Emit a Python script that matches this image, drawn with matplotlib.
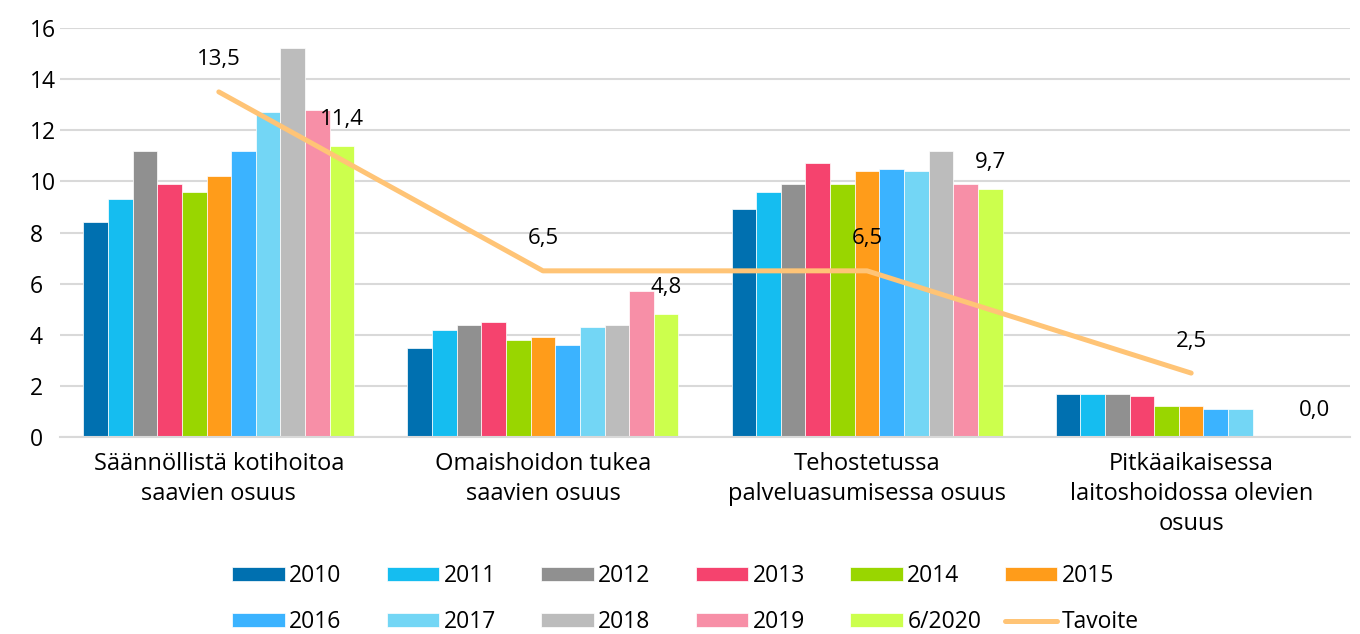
import numpy as np
import matplotlib.pyplot as plt

plt.rcParams['font.family'] = ['Open Sans', 'DejaVu Sans']

categories = ["Säännöllistä kotihoitoa\nsaavien osuus",
              "Omaishoidon tukea\nsaavien osuus",
              "Tehostetussa\npalveluasumisessa osuus",
              "Pitkäaikaisessa\nlaitoshoidossa olevien\nosuus"]
years = ["2010", "2011", "2012", "2013", "2014", "2015",
         "2016", "2017", "2018", "2019", "6/2020"]
# one list per year: values for the four categories
v2010 = [8.4, 3.5, 8.9, 1.7]
v2011 = [9.3, 4.2, 9.6, 1.7]
v2012 = [11.2, 4.4, 9.9, 1.7]
v2013 = [9.9, 4.5, 10.7, 1.6]
v2014 = [9.6, 3.8, 9.9, 1.2]
v2015 = [10.2, 3.9, 10.4, 1.2]
v2016 = [11.2, 3.6, 10.5, 1.1]
v2017 = [12.7, 4.3, 10.4, 1.1]
v2018 = [15.2, 4.4, 11.2, np.nan]
v2019 = [12.8, 5.7, 9.9, np.nan]
v2020 = [11.4, 4.8, 9.7, 0.0]
tavoite = [13.5, 6.5, 6.5, 2.5]

series = [v2010, v2011, v2012, v2013, v2014, v2015,
          v2016, v2017, v2018, v2019, v2020]
colors = ["#0070b0", "#15bdf0", "#909090", "#f5436e", "#99d600", "#ff9c1a",
          "#3bb3ff", "#73d6f5", "#bcbcbc", "#f78fa7", "#ccff4d"]
line_color = "#ffc476"

fig = plt.figure(figsize=(13.6, 6.34), dpi=100)
ax = fig.add_axes([60/1360, 1 - 437/634, 1290/1360, (437 - 28)/634])

x = np.arange(len(categories))
w = 0.076
handles = []
for i, (vals, c) in enumerate(zip(series, colors)):
    pos = x + (i - 5) * w
    b = ax.bar(pos, vals, w, color=c, edgecolor='white', linewidth=0.5, zorder=2)
    handles.append(b)

# labels for the last year
for xi, v in zip(x + 5 * w, v2020):
    ax.annotate(f"{v:.1f}".replace('.', ','), (xi, v), xytext=(0, 19),
                textcoords='offset points', ha='center', va='center', fontsize=16)

ln, = ax.plot(x, tavoite, color=line_color, lw=3.6, solid_capstyle='round', zorder=3)
handles.append(ln)
for xi, v in zip(x, tavoite):
    ax.annotate(f"{v:.1f}".replace('.', ','), (xi, v), xytext=(0, 23),
                textcoords='offset points', ha='center', va='center', fontsize=16)

ax.set_xlim(-0.49, 3.49)
ax.set_ylim(0, 16)
ax.set_yticks(range(0, 17, 2))
ax.set_xticks(x)
ax.set_xticklabels(categories, fontsize=17, linespacing=1.32)
ax.tick_params(axis='y', labelsize=16.5, length=0, pad=22)
ax.tick_params(axis='x', length=0, pad=11)
for lbl in ax.get_yticklabels():
    lbl.set_horizontalalignment('left')
ax.grid(axis='y', color='#d9d9d9', lw=1.5, zorder=0)
for s in ['top', 'right', 'left']:
    ax.spines[s].set_visible(False)
ax.spines['bottom'].set_color('#d9d9d9')
ax.spines['bottom'].set_linewidth(1.5)

# legend: six equal columns, two rows
labels = years + ["Tavoite"]
for col in range(6):
    idx = [col, col + 6]
    fig.legend([handles[k] for k in idx], [labels[k] for k in idx],
               loc='upper left', bbox_to_anchor=((232 + 154.5 * col) / 1360, 1 - 564/634),
               frameon=False, fontsize=16.5, handlelength=2.3, handleheight=0.55,
               handletextpad=0.2, labelspacing=0.98, borderpad=0, borderaxespad=0)

fig.savefig("out.png", dpi=100)
